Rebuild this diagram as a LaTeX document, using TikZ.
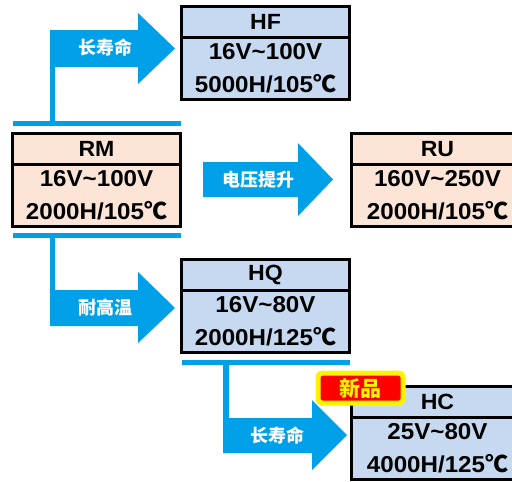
\documentclass[tikz,border=0pt]{standalone}
\usepackage{fontspec}
\setmainfont{Liberation Sans}[FakeStretch=1.05]
\newfontfamily\cjk{Noto Sans CJK SC}
\usetikzlibrary{positioning}
\definecolor{arrowblue}{RGB}{0,160,233}
\definecolor{boxblue}{RGB}{198,217,241}
\definecolor{boxpeach}{RGB}{252,229,214}
\newcommand{\degc}{{\cjk ℃}}
\tikzset{
  boxhead/.style={draw, line width=3pt, outer sep=0pt, inner sep=0pt,
    minimum width=168pt, minimum height=31pt, font=\fontsize{22}{26}\selectfont\bfseries},
  boxbody/.style={draw, line width=3pt, outer sep=0pt, inner sep=0pt,
    minimum width=168pt, minimum height=62pt, align=center,
    font=\fontsize{23}{33}\selectfont\bfseries},
  arrowlabel/.style={text=white, font=\cjk\fontsize{18}{18}\selectfont\bfseries},
  bluebar/.style={draw=arrowblue, line width=5pt},
}

\begin{document}
\begin{tikzpicture}[x=1pt,y=-1pt]
  \useasboundingbox (0,0) rectangle (512,482);
  \clip (0,0) rectangle (512,482);

  % arrows
  \fill[arrowblue] (50,123.5) -- (50,30) -- (138,30) -- (138,13) -- (175,48.5)
    -- (138,84) -- (138,67) -- (55,67) -- (55,123.5) -- cycle;
  \fill[arrowblue] (203,162) -- (298,162) -- (298,143) -- (333,179.5)
    -- (298,216) -- (298,197) -- (203,197) -- cycle;
  \fill[arrowblue] (50,235.5) -- (50,326) -- (138,326) -- (138,343) -- (175,308)
    -- (138,272) -- (138,290) -- (55,290) -- (55,235.5) -- cycle;
  \fill[arrowblue] (223,363) -- (223,453) -- (312,453) -- (312,470) -- (347,435)
    -- (312,400) -- (312,418) -- (229,418) -- (229,363) -- cycle;
  \node[arrowlabel] (lifea) at (105,48) {长寿命};
  \node[arrowlabel] (volt) at (258,180) {电压提升};
  \node[arrowlabel] (heat) at (105,308) {耐高温};
  \node[arrowlabel] (lifeb) at (277,436) {长寿命};

  % boxes
  \node[boxhead, fill=boxblue, anchor=north west] (hfh) at (181.5,6.5) {HF};
  \node[boxbody, fill=boxblue, below=0pt of hfh] (hfb) {16V\textasciitilde100V\\5000H/105\degc};

  \node[boxhead, fill=boxpeach, anchor=north west] (rmh) at (12.5,133.5) {RM};
  \node[boxbody, fill=boxpeach, below=0pt of rmh] (rmb) {16V\textasciitilde100V\\2000H/105\degc};

  \node[boxhead, fill=boxpeach, minimum width=172pt, anchor=north west] (ruh) at (351.5,133.5) {RU};
  \node[boxbody, fill=boxpeach, minimum width=172pt, below=0pt of ruh] (rub) {160V\textasciitilde250V\\2000H/105\degc};

  \node[boxhead, fill=boxblue, anchor=north west] (hqh) at (181.5,259.5) {HQ};
  \node[boxbody, fill=boxblue, below=0pt of hqh] (hqb) {16V\textasciitilde80V\\2000H/125\degc};

  \node[boxhead, fill=boxblue, minimum width=172pt, anchor=north west] (hch) at (351.5,386.5) {HC};
  \node[boxbody, fill=boxblue, minimum width=172pt, below=0pt of hch] (hcb) {25V\textasciitilde80V\\4000H/125\degc};

  % bars
  \draw[bluebar] ([yshift=10pt]rmh.north west) -- ([yshift=10pt]rmh.north east);
  \draw[bluebar] ([yshift=-9pt]rmb.south west) -- ([yshift=-9pt]rmb.south east);
  \draw[bluebar] ([yshift=-10pt]hqb.south west) -- ([yshift=-10pt]hqb.south east);

  % new badge
  \node[fill=red, draw=yellow, line width=5pt, rounded corners=4pt, inner sep=0pt,
        minimum width=85pt, minimum height=30pt, text=yellow,
        font=\cjk\fontsize{21}{21}\selectfont\bfseries] (newtag) at (360.5,388) {新品};
\end{tikzpicture}
\end{document}
